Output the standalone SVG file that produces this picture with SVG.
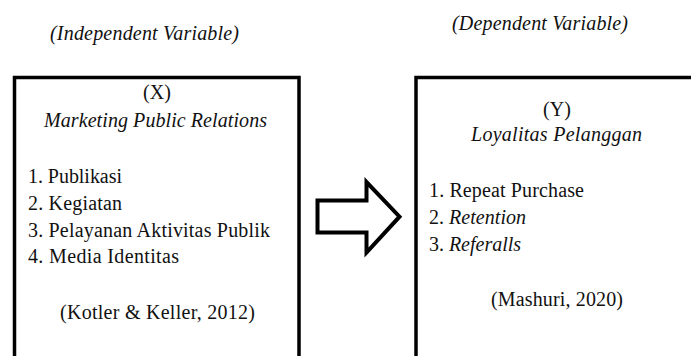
<svg xmlns="http://www.w3.org/2000/svg" width="691" height="356" viewBox="0 0 691 356">
<style>
text{font-family:"Liberation Serif","Times New Roman",serif;font-size:20px;fill:#111}
.i{font-style:italic}
.c{text-anchor:middle}
.box{fill:none;stroke:#000;stroke-width:3.5}
.arrow{fill:#fff;stroke:#000;stroke-width:4;stroke-linejoin:miter}
</style>
<rect width="691" height="356" fill="#fff"/>
<text class="i" x="50" y="40" textLength="189" lengthAdjust="spacing">(Independent Variable)</text>
<text class="i" x="452" y="30" textLength="176" lengthAdjust="spacing">(Dependent Variable)</text>
<g id="nodeX">
<path class="box" d="M14.5 358 V77.5 H299 V358"/>
<text class="c" x="157" y="99">(X)</text>
<text class="i" x="44" y="127" textLength="223" lengthAdjust="spacing">Marketing Public Relations</text>
<text x="28" y="183" textLength="94" lengthAdjust="spacing">1. Publikasi</text>
<text x="28" y="210" textLength="94" lengthAdjust="spacing">2. Kegiatan</text>
<text x="28" y="237" textLength="242" lengthAdjust="spacing">3. Pelayanan Aktivitas Publik</text>
<text x="28" y="263" textLength="151" lengthAdjust="spacing">4. Media Identitas</text>
<text x="60" y="319" textLength="195" lengthAdjust="spacing">(Kotler &amp; Keller, 2012)</text>
</g>
<g id="nodeY">
<path class="box" d="M416 358 V77.5 H693"/>
<text class="c" x="557" y="116">(Y)</text>
<text class="i" x="471" y="141" textLength="171" lengthAdjust="spacing">Loyalitas Pelanggan</text>
<text x="429" y="197" textLength="155" lengthAdjust="spacing">1. Repeat Purchase</text>
<text x="429" y="224" textLength="97" lengthAdjust="spacing">2. <tspan class="i">Retention</tspan></text>
<text x="429" y="251" textLength="92" lengthAdjust="spacing">3. <tspan class="i">Referalls</tspan></text>
<text x="491" y="306" textLength="132" lengthAdjust="spacing">(Mashuri, 2020)</text>
</g>
<g id="connectors">
<path class="arrow" d="M317.5 200.5 H366.5 V182 L399.5 216.7 L366.5 252.5 V232.5 H317.5 Z"/>
</g>
</svg>
